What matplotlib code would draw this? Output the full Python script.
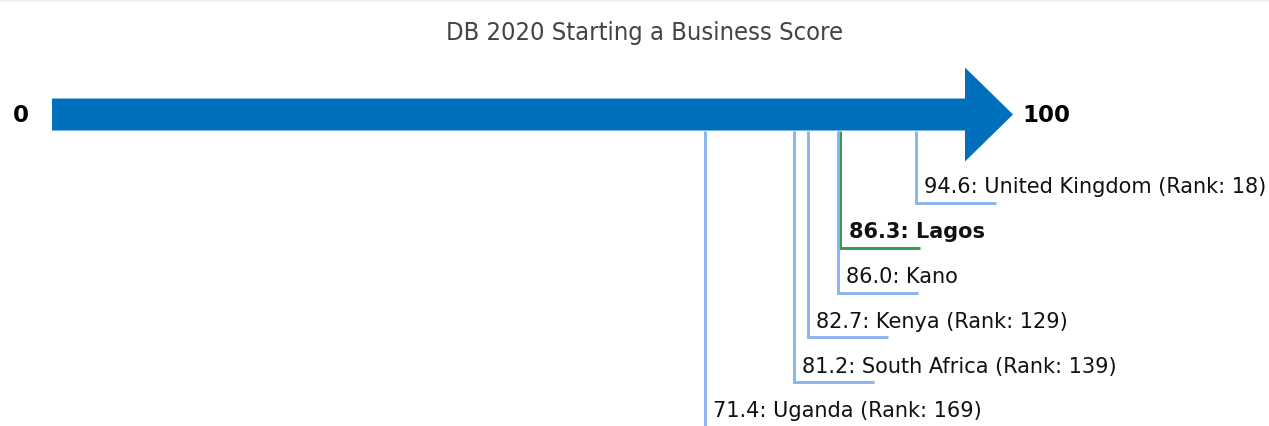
import matplotlib
matplotlib.use("Agg")
from matplotlib import pyplot as plt

# data
names = ["United Kingdom", "Lagos", "Kano", "Kenya", "South Africa", "Uganda"]
scores = [94.6, 86.3, 86.0, 82.7, 81.2, 71.4]
ranks = [18, None, None, 129, 139, 169]
highlight = "Lagos"
scale_min, scale_max = 0, 100
title = "DB 2020 Starting a Business Score"

ARROW = "#0070bd"
LINK = "#8ab4ee"
GREEN = "#2e9e4a"

fig = plt.figure(figsize=(12.69, 4.27), dpi=100)
ax = fig.add_axes([0, 0, 1, 1])
# x in score units, y in pixels (top = 0)
px_per_unit = 9.09
x0 = 56
ax.set_xlim(-x0 / px_per_unit, (1269 - x0) / px_per_unit)
ax.set_ylim(427, 0)
ax.axis("off")

# faint top border
ax.axhline(1, color="#eaf2fb", lw=2)

# big arrow
yc = 115.5
shaft = 16
head = 47
tip = scale_max + 48 / px_per_unit
start = scale_min - 4 / px_per_unit
ax.fill([start, scale_max, scale_max, tip, scale_max, scale_max, start],
        [yc - shaft, yc - shaft, yc - head, yc, yc + head, yc + shaft, yc + shaft],
        color=ARROW, lw=0)

ax.text(scale_min - 3.9, yc, str(scale_min), fontsize=16.5, fontweight="bold",
        ha="center", va="center")
ax.text(tip + 1, yc, str(scale_max), fontsize=16.5, fontweight="bold",
        ha="left", va="center")

# connectors and labels
row0 = 204
gap = 44.8
seg = 8.8
for i, (n, s, r) in enumerate(zip(names, scores, ranks)):
    y = row0 + i * gap
    col = GREEN if n == highlight else LINK
    ax.plot([s, s, s + seg], [yc + shaft, y, y], color=col, lw=2.1,
            solid_joinstyle="miter", solid_capstyle="butt")
    lab = f"{s:.1f}: {n}" + (f" (Rank: {r})" if r is not None else "")
    ax.text(s + 0.9, y - 10.5, lab, fontsize=15, ha="left", va="baseline",
            fontweight="bold" if n == highlight else "normal", color="#111111")

ax.text(645 / px_per_unit - x0 / px_per_unit, 33, title, fontsize=18.3,
        family="DejaVu Sans", fontstretch="condensed",
        color="#444444", ha="center", va="center")

fig.savefig("out.png", dpi=100)
